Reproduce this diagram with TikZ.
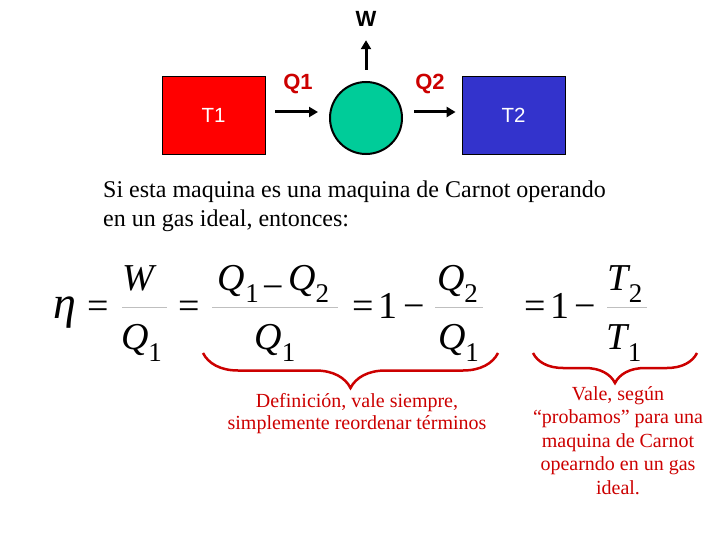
\documentclass[tikz,border=0pt]{standalone}
\usepackage{fontspec}
\setmainfont{Liberation Serif}
\newfontfamily\arialfont{Liberation Sans}
\usetikzlibrary{positioning,arrows.meta,decorations.pathreplacing}

\definecolor{hotred}{RGB}{255,0,0}
\definecolor{coldblue}{RGB}{51,51,204}
\definecolor{enginegreen}{RGB}{0,204,153}
\definecolor{darkred}{RGB}{204,0,0}

\newcommand{\eqfont}{\fontsize{38}{40}\selectfont}
\newcommand{\lowidx}[1]{\raisebox{-12pt}{\fontsize{27}{27}\selectfont\upshape #1}}
\newcommand{\lowminus}{\kern4pt\raisebox{-9pt}{\upshape −}\kern4pt}

\tikzset{
  reservoir/.style={draw=black, line width=0.8pt, minimum width=103pt, minimum height=78pt,
    inner sep=0pt, text=white, font=\arialfont\fontsize{20.5}{24}\selectfont},
  flow/.style={line width=3pt, -{Triangle[length=9pt,width=10pt]}},
  heatlabel/.style={text=darkred, font=\arialfont\bfseries\fontsize{22}{26}\selectfont,
    inner sep=0pt, anchor=base},
  sym/.style={inner sep=0pt, anchor=base, font=\eqfont},
  fracbar/.style={black!25, line width=1pt},
  redbrace/.style={draw=darkred, line width=2.5pt, decorate,
    decoration={brace, mirror, amplitude=#1}},
  note/.style={text=darkred, align=center, inner sep=0pt, anchor=base}
}

\begin{document}
\begin{tikzpicture}[x=1pt, y=-1pt]
  \useasboundingbox (0,0) rectangle (720,540);

  % Reservoirs and engine
  \node[reservoir, fill=hotred] (hot) at (213.5,115) {T1};
  \node[reservoir, fill=coldblue] (cold) at (513.5,115) {T2};
  \node[circle, draw=black, line width=2pt, fill=enginegreen, minimum size=72pt,
    inner sep=0pt] (engine) at (366,118) {};

  % Heat flows and work
  \node[heatlabel] (q1) at (298,90) {Q1};
  \node[heatlabel] (q2) at (430,90) {Q2};
  \node[heatlabel, text=black] (w) at (366,27) {W};
  \draw[flow, shorten <=10pt, shorten >=11pt] ([yshift=3pt]hot.east) -- ([yshift=6pt]engine.west);
  \draw[flow, shorten <=11pt, shorten >=6pt] ([yshift=6pt]engine.east) -- ([yshift=3pt]cold.west);
  \draw[flow, shorten <=11pt, shorten >=13pt] (engine.north) -- (w.south);

  % Statement (base = last line)
  \node[anchor=base west, align=left, inner sep=0pt, font=\fontsize{24}{29}\selectfont] (intro)
    at (103,226) {Si esta maquina es una maquina de Carnot operando\\en un gas ideal, entonces:};

  % Efficiency
  \node[sym, font=\itshape\fontsize{46}{48}\selectfont] (eta) at (65,318) {η};
  \node[sym] (eqa) at (98.5,318) {=};
  \node[sym] (wnum) at (138.5,290) {\itshape W};
  \node[sym] (qden) at (141.5,349) {\itshape Q\lowidx{1}};
  \draw[fracbar] (122,307) -- (167,307);

  \node[sym] (eqb) at (189,318) {=};
  \node[sym] (diffnum) at (273.5,290) {\itshape Q\lowidx{1}\lowminus Q\lowidx{2}};
  \node[sym] (diffden) at (275,349) {\itshape Q\lowidx{1}};
  \draw[fracbar] (212,307) -- (338,307);

  \node[sym] (eqc) at (388.5,318) {=\kern5pt1\kern5pt−};
  \node[sym] (ratnum) at (457.5,290) {\itshape Q\lowidx{2}};
  \node[sym] (ratden) at (458.5,349) {\itshape Q\lowidx{1}};
  \draw[fracbar] (435,307) -- (483,307);

  \node[sym] (eqd) at (560,318) {=\kern5pt1\kern5pt−};
  \node[sym] (tnum) at (625,290) {\itshape T\lowidx{2}};
  \node[sym] (tden) at (624,349) {\itshape T\lowidx{1}};
  \draw[fracbar] (607,307) -- (647,307);

  % Braces and remarks (base = last line)
  \draw[redbrace=35] (203,353) -- (498,353);
  \draw[redbrace=30] (533,353) -- (697,353);
  \node[note, font=\fontsize{20}{22}\selectfont] (defnote) at (357,429)
    {Definición, vale siempre,\\simplemente reordenar términos};
  \node[note, font=\fontsize{20}{23.5}\selectfont] (carnotnote) at (618,494)
    {Vale, según\\“probamos” para una\\maquina de Carnot\\opearndo en un gas\\ideal.};
\end{tikzpicture}
\end{document}
